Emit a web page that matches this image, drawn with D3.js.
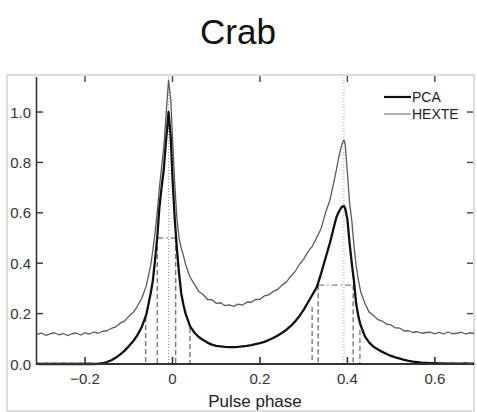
<!DOCTYPE html>
<html><head><meta charset="utf-8">
<script src="https://cdn.jsdelivr.net/npm/d3@7"></script>
<style>html,body{margin:0;padding:0;background:#fff;}svg{display:block;font-family:"Liberation Sans",Arial,sans-serif;}</style>
</head><body><svg id="c" width="477" height="412"></svg>
<script>
const title = "Crab";
const xLabel = "Pulse phase";
const seriesNames = ["PCA", "HEXTE"];
const xTicks = [-0.2, 0, 0.2, 0.4, 0.6];
const yTicks = [0.0, 0.2, 0.4, 0.6, 0.8, 1.0];

const phase = [
 -0.31,-0.30,-0.29,-0.28,-0.27,-0.26,-0.25,-0.24,-0.23,-0.22,-0.21,-0.20,-0.19,-0.18,-0.17,-0.16,-0.15,-0.14,-0.13,-0.12,-0.11,-0.10,
 -0.09,-0.08,-0.07,-0.06,-0.05,-0.045,-0.04,-0.035,-0.03,-0.025,-0.02,-0.015,-0.009,-0.004,0.0,0.005,0.01,0.015,0.02,0.025,0.03,0.035,0.04,
 0.05,0.06,0.07,0.08,0.09,0.10,0.11,0.12,0.13,0.14,0.15,0.16,0.17,0.18,0.19,0.20,0.21,0.22,0.23,0.24,0.25,0.26,0.27,0.28,0.29,0.30,
 0.31,0.32,0.33,0.34,0.35,0.36,0.365,0.37,0.375,0.38,0.385,0.389,0.392,0.395,0.40,0.405,0.41,0.415,0.42,0.425,0.43,0.44,0.45,
 0.46,0.47,0.48,0.49,0.50,0.51,0.52,0.53,0.54,0.55,0.56,0.57,0.58,0.59,0.60,0.61,0.62,0.63,0.64,0.65,0.66,0.67,0.68,0.69
];
const pca = [
 0.001,0.000,0.001,0.000,0.001,0.000,0.001,0.000,0.001,0.000,0.001,0.000,0.001,0.000,0.001,0.003,0.008,0.015,0.025,0.037,0.052,0.070,
 0.090,0.115,0.148,0.195,0.280,0.330,0.410,0.500,0.620,0.700,0.770,0.880,1.000,0.900,0.740,0.580,0.460,0.360,0.280,0.235,0.200,0.175,0.150,
 0.125,0.107,0.095,0.085,0.077,0.072,0.070,0.068,0.067,0.067,0.068,0.070,0.072,0.075,0.079,0.083,0.088,0.095,0.103,0.112,0.123,0.135,0.150,0.168,0.190,0.215,
 0.245,0.275,0.305,0.360,0.420,0.480,0.515,0.550,0.583,0.603,0.618,0.626,0.627,0.617,0.575,0.480,0.400,0.330,0.240,0.190,0.155,0.110,0.085,
 0.068,0.058,0.048,0.040,0.032,0.026,0.021,0.016,0.012,0.009,0.007,0.005,0.004,0.003,0.003,0.002,0.002,0.001,0.002,0.001,0.001,0.002,0.001,0.001
];
const hexte = [
 0.118,0.123,0.114,0.120,0.124,0.116,0.121,0.113,0.120,0.123,0.115,0.124,0.119,0.127,0.122,0.130,0.132,0.141,0.147,0.162,0.170,0.189,
 0.204,0.230,0.262,0.310,0.390,0.450,0.520,0.600,0.700,0.780,0.860,0.980,1.127,1.050,0.900,0.720,0.580,0.500,0.460,0.430,0.395,0.370,0.345,
 0.317,0.288,0.276,0.256,0.255,0.241,0.243,0.232,0.235,0.229,0.238,0.234,0.245,0.245,0.256,0.257,0.270,0.274,0.288,0.295,0.312,0.325,0.347,0.366,0.394,0.416,
 0.446,0.468,0.502,0.538,0.600,0.650,0.690,0.730,0.772,0.818,0.856,0.880,0.889,0.872,0.760,0.640,0.570,0.470,0.390,0.335,0.290,0.240,0.205,
 0.192,0.176,0.170,0.158,0.155,0.143,0.142,0.131,0.132,0.125,0.128,0.122,0.125,0.126,0.120,0.126,0.119,0.127,0.120,0.122,0.126,0.119,0.124,0.121
];
const peakPhases = [-0.009, 0.392];
const widthPhases = [-0.0613, -0.0347, 0.0073, 0.040, 0.3195, 0.3333, 0.4133, 0.4286];
const widthTops = [0.187, 0.5, 0.5, 0.143, 0.226, 0.313, 0.313, 0.135];
const halfStart = [-0.0347, 0.3333];
const halfEnd = [0.0073, 0.4133];
const halfLevel = [0.5, 0.313];

const svg = d3.select("#c");
const x = d3.scaleLinear().domain([-0.311, 0.685]).range([36.5, 472]);
const y = d3.scaleLinear().domain([0, 1.139]).range([364, 77]);

// frame
svg.append("rect").attr("x",7).attr("y",75).attr("width",467).attr("height",336)
  .attr("fill","none").attr("stroke","#dcdcdc").attr("stroke-width",2);

// title
svg.append("text").attr("x",238).attr("y",44).attr("text-anchor","middle")
  .attr("font-size",35).attr("fill","#111").text(title);

// dotted peak lines
svg.selectAll(".dot").data(peakPhases).join("line")
  .attr("x1",d=>x(d)).attr("x2",d=>x(d)).attr("y1",y(1.139)).attr("y2",y(0))
  .attr("stroke","#999").attr("stroke-width",1).attr("stroke-dasharray","1,2");

// dashed width lines
svg.selectAll(".dash").data(widthPhases).join("line")
  .attr("x1",d=>x(d)).attr("x2",d=>x(d)).attr("y1",(d,i)=>y(widthTops[i])).attr("y2",y(0))
  .attr("stroke","#777").attr("stroke-width",1.4).attr("stroke-dasharray","5,3");

// half-max dash-dot
svg.selectAll(".half").data(halfLevel).join("line")
  .attr("x1",(d,i)=>x(halfStart[i])).attr("x2",(d,i)=>x(halfEnd[i])).attr("y1",d=>y(d)).attr("y2",d=>y(d))
  .attr("stroke","#888").attr("stroke-width",1.3).attr("stroke-dasharray","6,3,1.5,3");

const line = d3.line().x(d=>x(d[0])).y(d=>y(d[1]));
svg.append("path").datum(phase.map((p,i)=>[p,hexte[i]])).attr("d",line)
  .attr("fill","none").attr("stroke","#5a5a5a").attr("stroke-width",1.3).attr("stroke-linejoin","round");
svg.append("path").datum(phase.map((p,i)=>[p,pca[i]])).attr("d",line)
  .attr("fill","none").attr("stroke","#111").attr("stroke-width",2.3).attr("stroke-linejoin","round");

// axes
const ax = svg.append("g");
ax.append("line").attr("x1",36.5).attr("x2",36.5).attr("y1",77).attr("y2",365).attr("stroke","#333").attr("stroke-width",1.6);
ax.append("line").attr("x1",36).attr("x2",472).attr("y1",364).attr("y2",364).attr("stroke","#333").attr("stroke-width",1.8);

const clip = svg.append("clipPath").attr("id","lblclip");
clip.append("rect").attr("x",9.5).attr("y",0).attr("width",40).attr("height",412);

const yl = svg.append("g");
yTicks.forEach(t=>{
  yl.append("line").attr("x1",36.5).attr("x2",43).attr("y1",y(t)).attr("y2",y(t)).attr("stroke","#333").attr("stroke-width",1.4);
  yl.append("line").attr("x1",467).attr("x2",473).attr("y1",y(t)).attr("y2",y(t)).attr("stroke","#444").attr("stroke-width",1.4);
  yl.append("text").attr("x",31).attr("y",y(t)+5.5).attr("text-anchor","end").attr("font-size",15)
    .attr("fill","#333").attr("clip-path","url(#lblclip)").text(d3.format(".1f")(t));
});
const fmtX = d=> d===0 ? "0" : (d<0 ? "\u2212" : "") + Math.abs(d).toFixed(1);
xTicks.forEach(t=>{
  svg.append("line").attr("x1",x(t)).attr("x2",x(t)).attr("y1",364).attr("y2",357).attr("stroke","#333").attr("stroke-width",1.6);
  svg.append("line").attr("x1",x(t)).attr("x2",x(t)).attr("y1",76).attr("y2",82).attr("stroke","#444").attr("stroke-width",1.4);
  svg.append("text").attr("x",x(t)).attr("y",384).attr("text-anchor","middle").attr("font-size",15)
    .attr("fill","#333").text(fmtX(t));
});
svg.append("text").attr("x",255).attr("y",407).attr("text-anchor","middle").attr("font-size",17)
  .attr("fill","#222").text(xLabel);

// legend
const lg = svg.append("g");
const legColors = ["#111","#9a9a9a"], legW = [2.2,1.5], legY = [97,114];
seriesNames.forEach((n,i)=>{
  lg.append("line").attr("x1",384).attr("x2",411).attr("y1",legY[i]).attr("y2",legY[i])
    .attr("stroke",legColors[i]).attr("stroke-width",legW[i]);
  lg.append("text").attr("x",412).attr("y",legY[i]+5).attr("font-size",14).attr("fill","#222").text(n);
});
</script></body></html>
